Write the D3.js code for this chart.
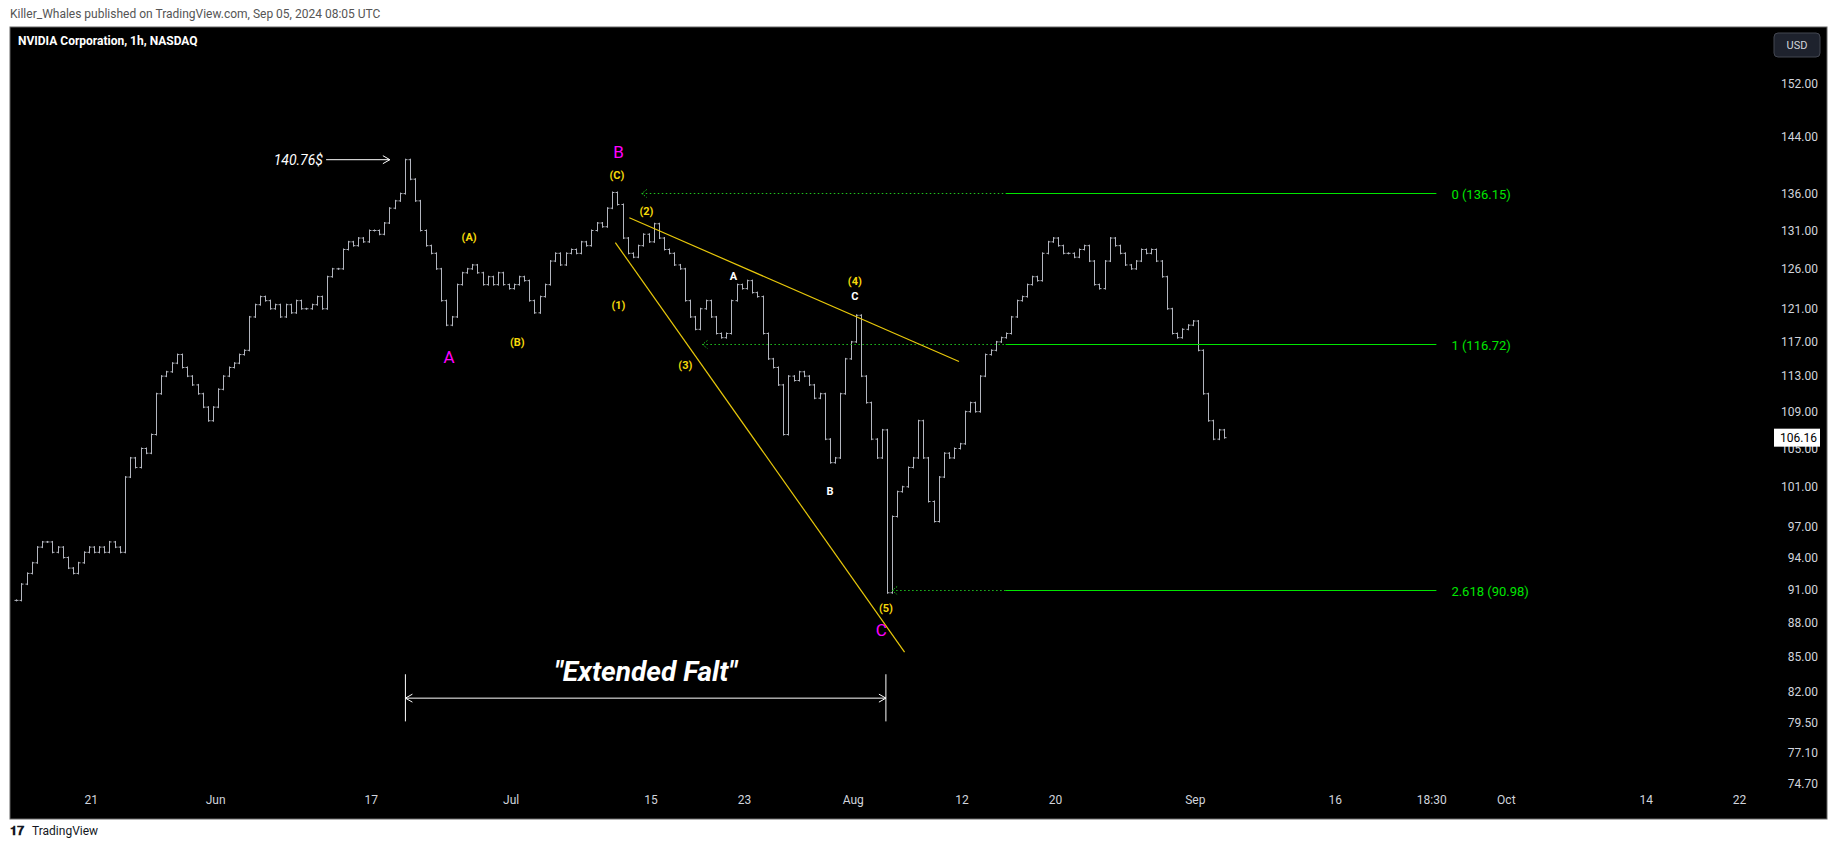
<!DOCTYPE html>
<html lang="en">
<head>
  <meta charset="UTF-8">
  <title>NVIDIA Corporation, 1h, NASDAQ</title>
  <script src="https://d3js.org/d3.v7.min.js"></script>
  <style>
    body { margin: 0; background: #fff; }
    svg { display: block; }
  </style>
</head>
<body>
  <svg width="1835" height="849"></svg>
  <script>
    // trading-day index, 0 = May 21; three closes per day
    const firstDay = -5;
    const closes = [
      [90.0, 91.5, 92.5], [93.5, 95, 95.5], [95.5, 94.5, 95], [94, 93, 92.5], [93.5, 94.5, 95],
      [94.5, 95, 94.5], [95.5, 95, 94.5], [102, 104, 103], [105, 104.5, 106.5], [111, 113, 113.5],
      [114.5, 115.5, 114], [113, 112, 111], [109.5, 108, 109.5], [111.5, 113, 114], [114.5, 115.5, 116],
      [120, 121.5, 122.5], [122, 121, 121.5], [120, 121.5, 120.5], [122, 121, 121], [121.5, 122.5, 121],
      [125, 126, 126], [128.5, 129.5, 129], [130, 129.5, 131], [131, 130.5, 132], [134, 135, 136],
      [140.76, 138, 135], [131, 129, 128], [126, 122, 119], [120, 124, 125.5], [126, 126.5, 125.5],
      [124, 125, 124], [125.5, 124, 123.5], [124, 125, 124.5], [122, 120.5, 122.5], [124, 127, 128],
      [126.5, 128, 128.5], [128, 129.5, 129], [131, 132, 131.5], [134, 136.15, 134.5], [130, 128, 127.5],
      [129, 130.5, 129.5], [131.9, 130, 128.5], [128, 126.5, 126], [122, 120, 118.5], [121, 122, 120],
      [118, 117.5, 118], [122, 124, 123.5], [124.5, 123, 122.5], [118, 115, 114], [112, 106.5, 113],
      [112.5, 113.5, 113], [112, 110.5, 111], [106, 103.5, 104], [111, 115, 117], [120.2, 113, 110],
      [106, 104, 107], [90.7, 98, 100.5], [101, 103, 104], [108, 104, 99.5], [97.5, 102, 104.5],
      [104, 105, 105.5], [109, 110, 109], [113, 115.5, 116], [117, 117.5, 118], [120, 122, 122.5],
      [124, 125, 124.5], [128, 129.5, 130], [129, 128, 128], [127.5, 128.5, 129], [127, 124, 123.5],
      [127, 130, 129], [128, 126.5, 126], [127, 128.5, 128], [128.5, 127, 125], [121, 118, 117.5],
      [118.5, 119, 119.5], [116, 111, 108], [106, 107, 106.16]
    ];
    const priceTicks = [152, 144, 136, 131, 126, 121, 117, 113, 109, 105, 101, 97, 94, 91, 88, 85, 82, 79.5, 77.1, 74.7];
    const dateTicks = [
      { i: 0, label: "21" }, { i: 8, label: "Jun" }, { i: 18, label: "17" }, { i: 27, label: "Jul" },
      { i: 36, label: "15" }, { i: 42, label: "23" }, { i: 49, label: "Aug" }, { i: 56, label: "12" },
      { i: 62, label: "20" }, { i: 71, label: "Sep" }, { i: 80, label: "16" }, { i: 86.2, label: "18:30" },
      { i: 91, label: "Oct" }, { i: 100, label: "14" }, { i: 106, label: "22" }
    ];
    const fibLevels = [
      { ratio: "0", price: 136.15, from: 35.4 },
      { ratio: "1", price: 116.72, from: 39.3 },
      { ratio: "2.618", price: 90.98, from: 51.5 }
    ];
    const waveLabels = [
      { t: "B", i: 33.9, p: 141.7, c: "#ff00ff", s: 17, w: "normal" },
      { t: "A", i: 23.0, p: 115.0, c: "#ff00ff", s: 17, w: "normal" },
      { t: "C", i: 50.8, p: 87.2, c: "#ff00ff", s: 17, w: "normal" },
      { t: "(C)", i: 33.8, p: 138.4, c: "#f5d90a", s: 11, w: "bold" },
      { t: "(A)", i: 24.3, p: 130.0, c: "#f5d90a", s: 11, w: "bold" },
      { t: "(B)", i: 27.4, p: 116.9, c: "#f5d90a", s: 11, w: "bold" },
      { t: "(1)", i: 33.9, p: 121.3, c: "#f5d90a", s: 11, w: "bold" },
      { t: "(2)", i: 35.7, p: 133.5, c: "#f5d90a", s: 11, w: "bold" },
      { t: "(3)", i: 38.2, p: 114.2, c: "#f5d90a", s: 11, w: "bold" },
      { t: "(4)", i: 49.1, p: 124.3, c: "#f5d90a", s: 11, w: "bold" },
      { t: "(5)", i: 51.1, p: 89.2, c: "#f5d90a", s: 11, w: "bold" },
      { t: "A", i: 41.3, p: 124.9, c: "#ffffff", s: 11, w: "bold" },
      { t: "B", i: 47.5, p: 100.5, c: "#ffffff", s: 11, w: "bold" },
      { t: "C", i: 49.1, p: 122.5, c: "#ffffff", s: 11, w: "bold" }
    ];
    const wedgeLines = [
      [[34.6, 132.7], [55.8, 114.7]],
      [[33.7, 129.4], [52.3, 85.4]]
    ];

    const svg = d3.select("svg");
    const font = "Roboto, 'DejaVu Sans', sans-serif";

    // header
    svg.append("text").attr("x", 10).attr("y", 18).attr("font-family", font)
      .attr("font-size", 12).attr("fill", "#555").text("Killer_Whales published on TradingView.com, Sep 05, 2024 08:05 UTC");

    // panel
    svg.append("rect").attr("x", 10).attr("y", 27).attr("width", 1817).attr("height", 792)
      .attr("fill", "#000").attr("stroke", "#666");

    const x = d3.scaleLinear().domain([0, 106]).range([91.3, 91.3 + 106 * 15.55]);
    const y = d3.scaleLog().domain([74.7, 152]).range([784, 84]);

    const g = svg.append("g");
    g.append("defs").append("clipPath").attr("id", "plot")
      .append("rect").attr("x", 11).attr("y", 28).attr("width", 1755).attr("height", 760);
    const plot = g.append("g").attr("clip-path", "url(#plot)");

    // bars
    const bars = [];
    let prev = closes[0][0];
    closes.forEach((day, d) => {
      day.forEach((c, k) => {
        bars.push({ i: firstDay + d + (k + 0.5) / 3, o: prev, c: c });
        prev = c;
      });
    });
    const bar = plot.append("g").attr("stroke", "#b2b5be").attr("stroke-width", 1)
      .selectAll("g").data(bars).join("g");
    bar.append("line")
      .attr("x1", d => Math.round(x(d.i)) + 0.5).attr("x2", d => Math.round(x(d.i)) + 0.5)
      .attr("y1", d => y(Math.max(d.o, d.c)) - 1).attr("y2", d => y(Math.min(d.o, d.c)) + 1);
    bar.append("line")
      .attr("x1", d => Math.round(x(d.i)) - 1.5).attr("x2", d => Math.round(x(d.i)) + 0.5)
      .attr("y1", d => y(d.o)).attr("y2", d => y(d.o));
    bar.append("line")
      .attr("x1", d => Math.round(x(d.i)) + 0.5).attr("x2", d => Math.round(x(d.i)) + 2.5)
      .attr("y1", d => y(d.c)).attr("y2", d => y(d.c));

    // fib levels
    const fibEnd = 86.5, fibSolid = 58.8;
    fibLevels.forEach(f => {
      const yy = Math.round(y(f.price)) + 0.5;
      plot.append("line").attr("x1", x(f.from)).attr("x2", x(fibSolid)).attr("y1", yy).attr("y2", yy)
        .attr("stroke", "#1fc41f").attr("stroke-dasharray", "1.5,2.5");
      plot.append("path").attr("d", `M${x(f.from) + 5},${yy - 4}L${x(f.from)},${yy}L${x(f.from) + 5},${yy + 4}`)
        .attr("fill", "none").attr("stroke", "#1fc41f").attr("stroke-dasharray", "1.5,1.5");
      plot.append("line").attr("x1", x(fibSolid)).attr("x2", x(fibEnd)).attr("y1", yy).attr("y2", yy)
        .attr("stroke", "#00e600").attr("stroke-width", 1.2);
      plot.append("text").attr("x", x(fibEnd) + 15).attr("y", yy + 5).attr("fill", "#00e600")
        .attr("font-family", font).attr("font-size", 13).text(`${f.ratio} (${f.price.toFixed(2)})`);
    });

    // wedge
    const lineGen = d3.line().x(d => x(d[0])).y(d => y(d[1]));
    plot.selectAll(".wedge").data(wedgeLines).join("path").attr("class", "wedge")
      .attr("d", lineGen).attr("stroke", "#e8c80a").attr("stroke-width", 1.2).attr("fill", "none");

    // wave labels
    plot.selectAll(".wave").data(waveLabels).join("text").attr("class", "wave")
      .attr("x", d => x(d.i)).attr("y", d => y(d.p)).attr("text-anchor", "middle")
      .attr("dominant-baseline", "middle").attr("fill", d => d.c).attr("font-size", d => d.s)
      .attr("font-weight", d => d.w).attr("font-family", font).text(d => d.t);

    // 140.76$ note
    const topY = y(140.76);
    plot.append("text").attr("x", x(14.9)).attr("y", topY + 5).attr("text-anchor", "end")
      .attr("fill", "#fff").attr("font-family", font).attr("font-style", "italic").attr("font-size", 14)
      .text("140.76$");
    plot.append("path").attr("d", `M${x(15.1)},${topY}H${x(19.2)}M${x(19.2) - 7},${topY - 4}L${x(19.2)},${topY}L${x(19.2) - 7},${topY + 4}`)
      .attr("stroke", "#fff").attr("fill", "none");

    // Extended Falt bracket
    const bx0 = x(20.2), bx1 = x(51.1), by = y(81.5);
    plot.append("path").attr("d", `M${bx0},${y(83.5)}V${y(79.6)}M${bx1},${y(83.5)}V${y(79.6)}M${bx0},${by}H${bx1}`)
      .attr("stroke", "#fff").attr("fill", "none");
    plot.append("path").attr("d", `M${bx0 + 7},${by - 4}L${bx0},${by}L${bx0 + 7},${by + 4}M${bx1 - 7},${by - 4}L${bx1},${by}L${bx1 - 7},${by + 4}`)
      .attr("stroke", "#fff").attr("fill", "none");
    plot.append("text").attr("x", (bx0 + bx1) / 2).attr("y", y(82.9)).attr("text-anchor", "middle")
      .attr("fill", "#fff").attr("font-family", font).attr("font-style", "italic").attr("font-weight", "bold")
      .attr("font-size", 28).text("\"Extended Falt\"");

    // title
    svg.append("text").attr("x", 18).attr("y", 45).attr("font-family", font).attr("font-size", 12)
      .attr("font-weight", "bold").attr("fill", "#fff").text("NVIDIA Corporation, 1h, NASDAQ");

    // price axis
    const ya = svg.append("g").attr("font-family", font).attr("font-size", 12).attr("fill", "#d1d4dc");
    ya.selectAll("text").data(priceTicks).join("text")
      .attr("x", 1818).attr("y", d => y(d) + 4).attr("text-anchor", "end").attr("fill", "#d1d4dc")
      .text(d => d.toFixed(2));
    svg.append("rect").attr("x", 1774).attr("y", 33).attr("width", 46).attr("height", 24).attr("rx", 4)
      .attr("fill", "#1e222d").attr("stroke", "#434651");
    svg.append("text").attr("x", 1797).attr("y", 49).attr("text-anchor", "middle").attr("font-family", font)
      .attr("font-size", 11).attr("fill", "#d1d4dc").text("USD");
    const last = closes[closes.length - 1][2];
    svg.append("rect").attr("x", 1774).attr("y", y(last) - 9).attr("width", 46).attr("height", 18).attr("fill", "#fff");
    svg.append("text").attr("x", 1817).attr("y", y(last) + 4).attr("text-anchor", "end").attr("font-family", font)
      .attr("font-size", 12).attr("fill", "#000").text(last.toFixed(2));

    // time axis
    svg.append("g").selectAll("text").data(dateTicks).join("text")
      .attr("x", d => x(d.i)).attr("y", 804).attr("text-anchor", "middle").attr("font-family", font)
      .attr("font-size", 12).attr("fill", "#d1d4dc").text(d => d.label);

    // footer
    svg.append("text").attr("x", 10).attr("y", 835).attr("font-family", font).attr("font-size", 13)
      .attr("font-weight", "bold").attr("fill", "#131722").text("𝟏𝟕");
    svg.append("text").attr("x", 32).attr("y", 835).attr("font-family", font).attr("font-size", 12)
      .attr("fill", "#131722").text("TradingView");
  </script>
</body>
</html>
